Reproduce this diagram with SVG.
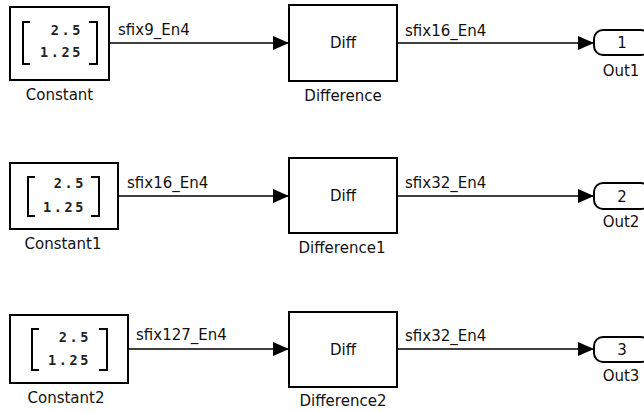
<svg xmlns="http://www.w3.org/2000/svg" width="644" height="412" viewBox="0 0 644 412">
<defs>
<style>
.blk{fill:#fff;stroke:#000;stroke-width:2}
.brk{fill:none;stroke:#000;stroke-width:2}
.num{font-family:"DejaVu Sans Mono","Liberation Mono",monospace;font-size:13.5px;font-weight:bold;fill:#222;text-anchor:end;letter-spacing:2.6px}
.lbl{font-family:"DejaVu Sans","Liberation Sans",sans-serif;font-size:15px;fill:#111;text-anchor:middle}
.sig{font-family:"DejaVu Sans","Liberation Sans",sans-serif;font-size:15px;fill:#111}
.wire{fill:none;stroke:#000;stroke-width:1.6}
</style>
<marker id="arr" markerUnits="userSpaceOnUse" markerWidth="16" markerHeight="14" refX="16" refY="7" orient="auto">
<path d="M0,0 L16,7 L0,14 Z" fill="#000"/>
</marker>
</defs>
<rect width="644" height="412" fill="#fff"/>

<g id="connectors">
<path class="wire" d="M109,43 H289" marker-end="url(#arr)"/>
<path class="wire" d="M397,43 H594" marker-end="url(#arr)"/>
<path class="wire" d="M118,196 H289" marker-end="url(#arr)"/>
<path class="wire" d="M397,196 H594" marker-end="url(#arr)"/>
<path class="wire" d="M128,349 H289" marker-end="url(#arr)"/>
<path class="wire" d="M397,349 H594" marker-end="url(#arr)"/>
<text class="sig" x="118" y="35">sfix9_En4</text>
<text class="sig" x="405" y="36">sfix16_En4</text>
<text class="sig" x="127" y="188">sfix16_En4</text>
<text class="sig" x="405" y="188">sfix32_En4</text>
<text class="sig" x="136" y="340">sfix127_En4</text>
<text class="sig" x="405" y="341">sfix32_En4</text>
</g>

<g id="Constant">
<rect class="blk" x="10" y="7" width="99" height="73"/>
<path class="brk" d="M30,22 H23 V64 H30 M89,22 H97 V64 H89"/>
<text class="num" x="83" y="35">2.5</text>
<text class="num" x="83" y="57">1.25</text>
<text class="lbl" x="59.5" y="100">Constant</text>
</g>
<g id="Constant1">
<rect class="blk" x="10" y="163" width="108" height="66"/>
<path class="brk" d="M35,177 H28 V216 H35 M91,177 H99 V216 H91"/>
<text class="num" x="86" y="188">2.5</text>
<text class="num" x="86" y="212">1.25</text>
<text class="lbl" x="63" y="249">Constant1</text>
</g>
<g id="Constant2">
<rect class="blk" x="10" y="315" width="118" height="68"/>
<path class="brk" d="M39,329 H32 V370 H39 M99,329 H107 V370 H99"/>
<text class="num" x="91" y="342">2.5</text>
<text class="num" x="91" y="365">1.25</text>
<text class="lbl" x="66" y="403">Constant2</text>
</g>

<g id="Difference">
<rect class="blk" x="289" y="5" width="108" height="76"/>
<text class="lbl" x="343" y="48">Diff</text>
<text class="lbl" x="343" y="101">Difference</text>
</g>
<g id="Difference1">
<rect class="blk" x="289" y="158" width="108" height="75"/>
<text class="lbl" x="343" y="201">Diff</text>
<text class="lbl" x="342" y="253">Difference1</text>
</g>
<g id="Difference2">
<rect class="blk" x="289" y="312" width="108" height="75"/>
<text class="lbl" x="343" y="355">Diff</text>
<text class="lbl" x="343" y="406">Difference2</text>
</g>

<g id="Out1">
<rect class="blk" x="594" y="30" width="56" height="25" rx="9"/>
<text class="lbl" x="622" y="48">1</text>
<text class="lbl" x="621" y="76">Out1</text>
</g>
<g id="Out2">
<rect class="blk" x="594" y="183" width="56" height="26" rx="9"/>
<text class="lbl" x="622" y="202">2</text>
<text class="lbl" x="621" y="227">Out2</text>
</g>
<g id="Out3">
<rect class="blk" x="594" y="337" width="56" height="25" rx="9"/>
<text class="lbl" x="622" y="355">3</text>
<text class="lbl" x="621" y="381">Out3</text>
</g>
</svg>
